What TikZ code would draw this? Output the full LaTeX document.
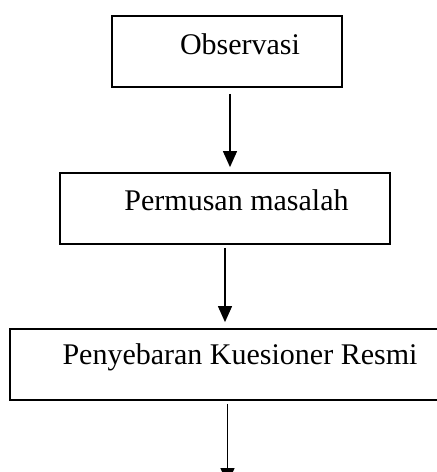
\documentclass[tikz,border=0pt]{standalone}
\usepackage{fontspec}
\setmainfont{Liberation Serif}
\usetikzlibrary{positioning,arrows.meta}

\tikzset{
  box/.style={draw, line width=1.8pt, minimum height=71pt, inner sep=0pt},
  lbl/.style={font=\fontsize{30}{36}\selectfont, inner sep=0pt},
  flow/.style={-{Triangle[width=14pt,length=16pt]}, line width=1.3pt}
}

\begin{document}
\begin{tikzpicture}[x=1pt,y=1pt]
    \useasboundingbox (0,0) rectangle (437,-472);
    %%%%% THE BOXES
    \node[box, minimum width=230pt,
      label={[lbl,xshift=13pt,yshift=7pt]center:Observasi}]
      (OBS) at (227,-51.5) {};
    \node[box, minimum width=330pt,
      label={[lbl,xshift=11.5pt,yshift=8.5pt]center:Permusan masalah}]
      (PERM) at (225,-208.5) {};
    \node[box, minimum width=435pt,
      label={[lbl,xshift=12.5pt,yshift=7.5pt]center:Penyebaran Kuesioner Resmi}]
      (SEBAR) at (227.5,-364.5) {};
    \coordinate (NEXT) at (227,-484);
    %%%%% THE ARROWS
    \draw[flow, shorten <=6pt, shorten >=5pt] ([xshift=3pt]OBS.south) -- ([xshift=3pt]OBS.south |- PERM.north);
    \draw[flow, shorten <=3pt, shorten >=6pt] (PERM.south) -- (PERM.south |- SEBAR.north);
    \draw[flow, shorten <=3pt] (SEBAR.south) -- (SEBAR.south |- NEXT);
  \end{tikzpicture}
\end{document}
